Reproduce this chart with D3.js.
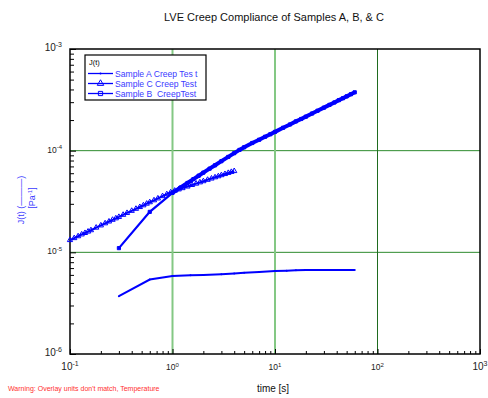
<!DOCTYPE html>
<html>
<head>
<meta charset="utf-8">
<script src="https://cdn.jsdelivr.net/npm/d3@7"></script>
<style>
  body { margin: 0; background: #fff; }
  svg { font-family: "Liberation Sans", Arial, sans-serif; }
  text { white-space: pre; }
</style>
</head>
<body>
<div class="chart"></div>
<script>
// Sample A creep test
var tA = [0.3, 0.6, 1.0, 1.5, 2, 3, 4, 5, 7, 10, 13, 16, 20, 30, 40, 60];
var jA = [3.7e-6, 5.4e-6, 5.85e-6, 5.95e-6, 6.0e-6, 6.1e-6, 6.2e-6, 6.3e-6, 6.4e-6, 6.55e-6, 6.6e-6, 6.65e-6, 6.7e-6, 6.7e-6, 6.7e-6, 6.7e-6];

// Sample C creep test
var tC = [0.10, 0.11, 0.12, 0.13, 0.14, 0.15, 0.16, 0.18, 0.20, 0.22, 0.24, 0.26, 0.28, 0.30, 0.33, 0.36, 0.40, 0.44, 0.48, 0.52, 0.56, 0.60, 0.66, 0.72, 0.80, 0.88, 0.96,
          1.05, 1.15, 1.25, 1.4, 1.55, 1.7, 1.85, 2.0, 2.2, 2.4, 2.6, 2.8, 3.0, 3.25, 3.5, 3.75, 4.0];
var jC = [1.32e-5, 1.38e-5, 1.44e-5, 1.50e-5, 1.55e-5, 1.60e-5, 1.65e-5, 1.75e-5, 1.84e-5, 1.93e-5, 2.01e-5, 2.09e-5, 2.16e-5, 2.23e-5, 2.34e-5, 2.44e-5, 2.56e-5, 2.68e-5, 2.79e-5, 2.90e-5, 3.01e-5, 3.11e-5, 3.25e-5, 3.39e-5, 3.57e-5, 3.73e-5, 3.89e-5,
          4.04e-5, 4.16e-5, 4.28e-5, 4.44e-5, 4.60e-5, 4.74e-5, 4.88e-5, 5.01e-5, 5.17e-5, 5.32e-5, 5.47e-5, 5.60e-5, 5.74e-5, 5.89e-5, 6.04e-5, 6.18e-5, 6.30e-5];

// Sample B creep test
var tB = [0.3, 0.6, 1.0, 1.2, 1.4, 1.6, 1.8, 2.0, 2.3, 2.6, 3.0, 3.5, 4.0, 4.5, 5, 6, 7, 8, 9, 10, 12, 14, 16, 18, 20, 23, 26, 30, 34, 38, 42, 46, 50, 55, 60];
var jB = [1.10e-5, 2.50e-5, 3.85e-5, 4.34e-5, 4.81e-5, 5.25e-5, 5.67e-5, 6.08e-5, 6.65e-5, 7.18e-5, 7.88e-5, 8.68e-5, 9.45e-5, 1.017e-4, 1.08e-4, 1.19e-4, 1.28e-4, 1.37e-4, 1.45e-4, 1.53e-4,
          1.68e-4, 1.81e-4, 1.94e-4, 2.05e-4, 2.16e-4, 2.32e-4, 2.47e-4, 2.65e-4, 2.82e-4, 2.98e-4, 3.14e-4, 3.28e-4, 3.42e-4, 3.59e-4, 3.75e-4];

var xExps = [-1, 0, 1, 2, 3];
var yExps = [-6, -5, -4, -3];
var legendNames = ["Sample A Creep Tes t", "Sample C Creep Test", "Sample B  CreepTest"];

const margin = ({top: 49, right: 8, bottom: 44, left: 70});
const W = 488, H = 398;
const width = W - margin.left - margin.right,
      height = H - margin.top - margin.bottom;

const blue = "#0000ff";
const textBlue = "#3a3aff";

var svg = d3.select('.chart').append('svg')
    .attr("width", W).attr("height", H);

var g = svg.append("g")
    .attr("transform", "translate(" + margin.left + "," + margin.top + ")");

const xScale = d3.scaleLog().domain([0.1, 1000]).range([0, width]);
const yScale = d3.scaleLog().domain([1e-6, 1e-3]).range([height, 0]);

// minor ticks 2..9 per decade
var xMinor = [], yMinor = [];
xExps.slice(0, -1).forEach(e => { for (var m = 2; m < 10; m++) xMinor.push(m * Math.pow(10, e)); });
yExps.slice(0, -1).forEach(e => { for (var m = 2; m < 10; m++) yMinor.push(m * Math.pow(10, e)); });

// grid
[1e-5, 1e-4].forEach(v => {
    g.append("line").attr("x1", 0).attr("x2", width)
        .attr("y1", yScale(v)).attr("y2", yScale(v))
        .attr("stroke", "#2e8b2e").attr("stroke-width", 1);
});
[1, 10].forEach(v => {
    g.append("line").attr("y1", 0).attr("y2", height)
        .attr("x1", xScale(v)).attr("x2", xScale(v))
        .attr("stroke", "#84c884").attr("stroke-width", 2);
});
g.append("line").attr("y1", 0).attr("y2", height)
    .attr("x1", xScale(100)).attr("x2", xScale(100))
    .attr("stroke", "#1f6b1f").attr("stroke-width", 1);

// axes with inward ticks
const xAxisMinor = d3.axisBottom(xScale).tickValues(xMinor).tickSize(-3).tickFormat("");
const xAxisMajor = d3.axisBottom(xScale).tickValues(xExps.map(e => Math.pow(10, e))).tickSize(-5).tickFormat("");
const yAxisMinor = d3.axisLeft(yScale).tickValues(yMinor).tickSize(-4).tickFormat("");
const yAxisMajor = d3.axisLeft(yScale).tickValues(yExps.map(e => Math.pow(10, e))).tickSize(-6).tickFormat("");

[xAxisMinor, xAxisMajor].forEach(a => {
    g.append("g").attr("transform", `translate(0, ${height})`).call(a)
        .call(s => s.select(".domain").remove());
});
[yAxisMinor, yAxisMajor].forEach(a => {
    g.append("g").call(a).call(s => s.select(".domain").remove());
});

// frame
g.append("rect").attr("x", 0).attr("y", 0).attr("width", width).attr("height", height)
    .attr("fill", "none").attr("stroke", "#000").attr("stroke-width", 1.5);

// tick labels
xExps.forEach((e, i) => {
    var big = (i === 0 || i === xExps.length - 1);
    var t = g.append("text")
        .attr("x", xScale(Math.pow(10, e)))
        .attr("y", height + 16)
        .attr("text-anchor", "middle")
        .attr("font-size", big ? 10 : 8.5)
        .attr("fill", "#222");
    t.append("tspan").text("10");
    t.append("tspan").attr("dy", big ? -4 : -3.5).attr("font-size", big ? 7 : 6).text(e);
});
yExps.forEach((e, i) => {
    var big = (i === 0 || i === yExps.length - 1);
    var t = g.append("text")
        .attr("x", -8)
        .attr("y", yScale(Math.pow(10, e)) + 2)
        .attr("text-anchor", "end")
        .attr("font-size", big ? 10 : 8.5)
        .attr("fill", "#222");
    t.append("tspan").text("10");
    t.append("tspan").attr("dy", big ? -4 : -3.5).attr("font-size", big ? 7 : 6).text(e);
});

// series
const line = d3.line().x(d => xScale(d[0])).y(d => yScale(d[1]));
var dataA = tA.map((t, i) => [t, jA[i]]);
var dataB = tB.map((t, i) => [t, jB[i]]);
var dataC = tC.map((t, i) => [t, jC[i]]);

var triangle = d3.symbol().type(d3.symbolTriangle).size(12);
var square = d3.symbol().type(d3.symbolSquare).size(10);

g.append("path").datum(dataA).attr("d", line)
    .attr("fill", "none").attr("stroke", blue).attr("stroke-width", 2);
g.selectAll(".ptA").data(dataA).enter().append("circle")
    .attr("class", "ptA")
    .attr("cx", d => xScale(d[0])).attr("cy", d => yScale(d[1]))
    .attr("r", 1).attr("fill", blue);

g.append("path").datum(dataC).attr("d", line)
    .attr("fill", "none").attr("stroke", blue).attr("stroke-width", 2);
g.selectAll(".ptC").data(dataC).enter().append("path")
    .attr("class", "ptC")
    .attr("transform", d => "translate(" + xScale(d[0]) + "," + yScale(d[1]) + ")")
    .attr("d", triangle).attr("fill", "none").attr("stroke", blue).attr("stroke-width", 1);

g.append("path").datum(dataB).attr("d", line)
    .attr("fill", "none").attr("stroke", blue).attr("stroke-width", 2.2);
g.append("path").datum(dataB.slice(2)).attr("d", line)
    .attr("fill", "none").attr("stroke", blue).attr("stroke-width", 4);
g.selectAll(".ptB").data(dataB).enter().append("path")
    .attr("class", "ptB")
    .attr("transform", d => "translate(" + xScale(d[0]) + "," + yScale(d[1]) + ")")
    .attr("d", square).attr("fill", blue).attr("stroke", blue).attr("stroke-width", 1);

// legend
var legend = svg.append("g").attr("transform", "translate(85,55)");
legend.append("rect").attr("width", 121).attr("height", 45)
    .attr("fill", "#fff").attr("stroke", "#000").attr("stroke-width", 1.2);
legend.append("text").attr("x", 4).attr("y", 10).attr("font-size", 7.5).attr("fill", "#000").text("J(t)");
var markers = [
    g => g.append("circle").attr("r", 1).attr("fill", blue),
    g => g.append("path").attr("d", d3.symbol().type(d3.symbolTriangle).size(18)).attr("fill", "none").attr("stroke", blue),
    g => g.append("path").attr("d", d3.symbol().type(d3.symbolSquare).size(18)).attr("fill", "none").attr("stroke", blue)
];
legendNames.forEach((name, i) => {
    var y = 18.5 + i * 10;
    legend.append("line").attr("x1", 3).attr("x2", 28).attr("y1", y).attr("y2", y)
        .attr("stroke", blue).attr("stroke-width", 1.3);
    markers[i](legend.append("g").attr("transform", "translate(15.5," + y + ")"));
    legend.append("text").attr("x", 30).attr("y", y + 3)
        .attr("font-size", 8.6).attr("fill", textBlue).text(name);
});

// title and labels
svg.append("text").attr("x", 274).attr("y", 21)
    .attr("text-anchor", "middle").attr("font-size", 11).attr("fill", "#111")
    .text("LVE Creep Compliance of Samples A, B, & C");

svg.append("text").attr("x", 273).attr("y", 392)
    .attr("text-anchor", "middle").attr("font-size", 10).attr("fill", "#111")
    .text("time [s]");

svg.append("text").attr("x", 8).attr("y", 391)
    .attr("font-size", 7).attr("fill", "#ff3030")
    .text("Warning: Overlay units don't match, Temperature");

var yl = svg.append("g").attr("transform", "translate(24,200) rotate(-90)");
yl.append("text").attr("x", 0).attr("y", 0).attr("text-anchor", "middle")
    .attr("font-size", 9).attr("fill", textBlue).text("J(t) (\u2014\u2014\u2014)");
var yl2 = yl.append("text").attr("x", 2).attr("y", 11).attr("text-anchor", "middle")
    .attr("font-size", 9).attr("fill", textBlue);
yl2.append("tspan").text("[Pa");
yl2.append("tspan").attr("dy", -3).attr("font-size", 6).text("-1");
yl2.append("tspan").attr("dy", 3).text("]");
</script>
</body>
</html>
